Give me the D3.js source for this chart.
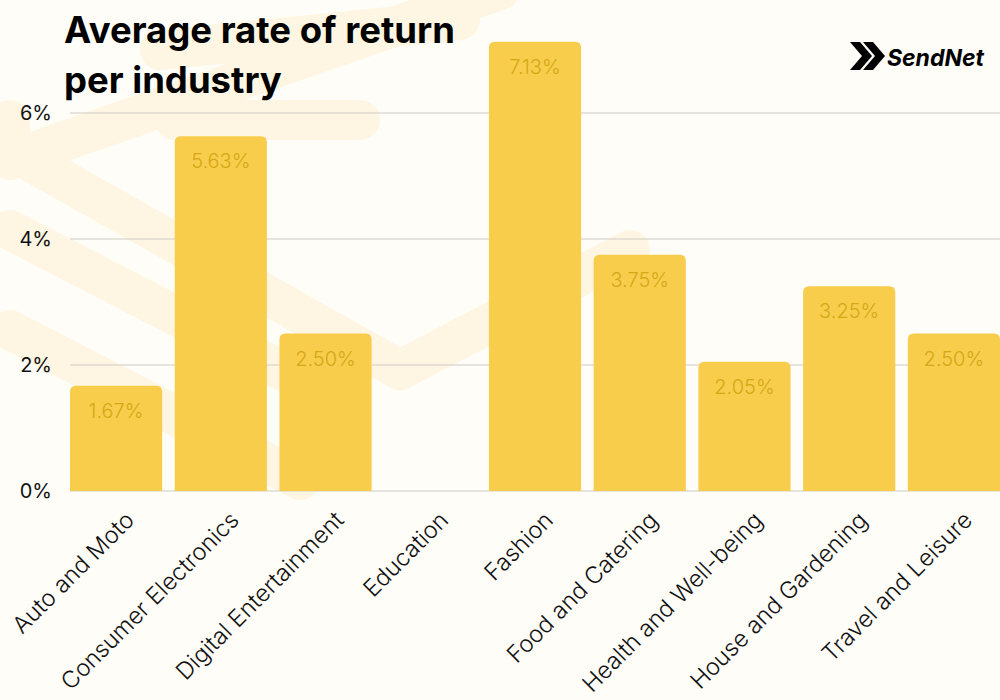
<!DOCTYPE html>
<html><head><meta charset="utf-8">
<script src="https://cdn.jsdelivr.net/npm/d3@7"></script>
<style>body{margin:0;background:#fffdf8;}svg{display:block;font-family:Inter,"Noto Sans",sans-serif;}</style>
</head><body><svg id="chart" width="1000" height="700"></svg>
<script>
const categories = ["Auto and Moto","Consumer Electronics","Digital Entertainment","Education","Fashion","Food and Catering","Health and Well-being","House and Gardening","Travel and Leisure"];
const values = [1.67,5.63,2.50,0,7.13,3.75,2.05,3.25,2.50];
const yTicks = [0,2,4,6];

const svg = d3.select("#chart");
const width = 1000, height = 700;
svg.append("rect").attr("width",width).attr("height",height).attr("fill","#fffdf8");

// faint background chevrons
const bg = svg.append("g").attr("fill","none").attr("stroke","#fef6e2").attr("stroke-width",40)
  .attr("stroke-linecap","round").attr("stroke-linejoin","round");
[[ [500,-10],[10,160],[10,120] ], [ [360,120],[175,120] ], [ [10,150],[400,370] ], [ [10,230],[300,380] ], [ [10,330],[300,480] ], [ [400,370],[630,250] ], [ [160,50],[460,20] ]]
  .forEach(p => bg.append("path").attr("d", d3.line()(p)));

const x = d3.scaleBand().domain(categories).range([70,1000]).paddingInner(0.12).paddingOuter(0);
const y = d3.scaleLinear().domain([0,6]).range([491,113]);

svg.append("g").selectAll("line").data(yTicks).join("line")
  .attr("x1",70).attr("x2",1000).attr("y1",d=>y(d)).attr("y2",d=>y(d))
  .attr("stroke","#cfcbc4").attr("stroke-width",1.2);

svg.append("g").selectAll("text").data(yTicks).join("text")
  .attr("x",52).attr("y",d=>y(d)).attr("dy","0.35em").attr("text-anchor","end")
  .attr("font-size",20).attr("fill","#111").text(d=>d+"%");

const bars = svg.append("g");
categories.forEach((c,i) => {
  const v = values[i];
  if (v <= 0) return;
  const x0 = x(c), w = x.bandwidth(), y0 = y(v), h = y(0) - y0, r = 6;
  bars.append("path").attr("fill","#f8cd4c")
    .attr("d", `M${x0},${y0+h}V${y0+r}Q${x0},${y0} ${x0+r},${y0}H${x0+w-r}Q${x0+w},${y0} ${x0+w},${y0+r}V${y0+h}Z`);
  bars.append("text").attr("x",x0+w/2).attr("y",y0+32).attr("text-anchor","middle")
    .attr("font-size",20).attr("font-weight",300).attr("fill","#d4a814").text(v.toFixed(2)+"%");
});

svg.append("g").selectAll("text").data(categories).join("text")
  .attr("transform",d=>`translate(${x(d)+x.bandwidth()/2+8},${510}) rotate(-45)`)
  .attr("text-anchor","end").attr("dy","0.7em").attr("font-size",23.5).attr("font-weight",300).attr("fill","#111").text(d=>d);

svg.append("text").attr("x",64).attr("y",43).attr("font-size",36.5).attr("font-weight",700).attr("fill","#000").text("Average rate of return");
svg.append("text").attr("x",64).attr("y",93).attr("font-size",36.5).attr("font-weight",700).attr("fill","#000").text("per industry");

// logo
const logo = svg.append("g").attr("transform","translate(850,42)");
logo.append("path").attr("d","M0,0H10L22,14L10,28H0L12,14Z M13,0H23L35,14L23,28H13L25,14Z").attr("fill","#000");
logo.append("text").attr("x",37).attr("y",24).attr("font-size",23).attr("font-weight",700)
  .attr("font-style","italic").attr("fill","#000").text("SendNet");
</script></body></html>
